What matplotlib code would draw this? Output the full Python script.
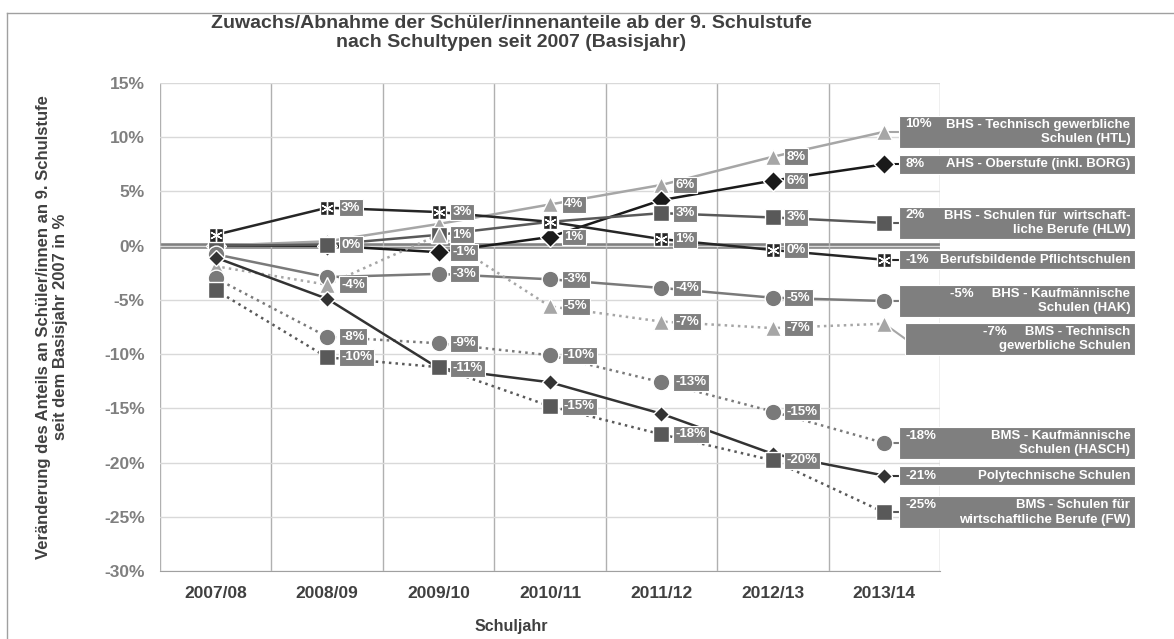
import matplotlib
matplotlib.use('Agg')
import matplotlib.pyplot as plt
from matplotlib.patches import Rectangle
from matplotlib.lines import Line2D
import numpy as np

plt.rcParams['font.family'] = ['Liberation Sans', 'DejaVu Sans']

# ---------------- data ----------------
years = ['2007/08', '2008/09', '2009/10', '2010/11', '2011/12', '2012/13', '2013/14']

names = [
    'BHS - Technisch gewerbliche\nSchulen (HTL)',
    'AHS - Oberstufe (inkl. BORG)',
    'BHS - Schulen für  wirtschaft-\nliche Berufe (HLW)',
    'Berufsbildende Pflichtschulen',
    'BHS - Kaufmännische\nSchulen (HAK)',
    'BMS - Technisch\ngewerbliche Schulen',
    'BMS - Kaufmännische\nSchulen (HASCH)',
    'Polytechnische Schulen',
    'BMS - Schulen für\nwirtschaftliche Berufe (FW)',
]

htl     = [0.0, 0.4, 2.0, 3.8, 5.6, 8.2, 10.5]
ahs     = [0.0, 0.0, -0.6, 0.8, 4.2, 6.0, 7.5]
hlw     = [0.0, 0.1, 1.0, 2.2, 3.0, 2.6, 2.1]
pflicht = [1.0, 3.5, 3.1, 2.2, 0.6, -0.4, -1.3]
hak     = [-0.8, -2.9, -2.6, -3.1, -3.9, -4.8, -5.1]
bms_tech = [-1.9, -3.6, 1.0, -5.6, -7.0, -7.6, -7.2]
hasch   = [-3.0, -8.4, -9.0, -10.1, -12.6, -15.3, -18.2]
poly    = [-1.1, -4.9, -11.3, -12.6, -15.5, -19.2, -21.2]
fw      = [-4.1, -10.3, -11.2, -14.8, -17.4, -19.8, -24.6]

values = [htl, ahs, hlw, pflicht, hak, bms_tech, hasch, poly, fw]

lbl_htl     = [None, None, None, '4%', '6%', '8%', '10%']
lbl_ahs     = [None, None, '-1%', '1%', None, '6%', '8%']
lbl_hlw     = [None, '0%', None, None, '3%', '3%', '2%']
lbl_pflicht = [None, '3%', '3%', None, '1%', '0%', '-1%']
lbl_hak     = [None, None, '-3%', '-3%', '-4%', '-5%', '-5%']
lbl_bms_tech = [None, '-4%', '1%', '-5%', '-7%', '-7%', '-7%']
lbl_hasch   = [None, '-8%', '-9%', '-10%', '-13%', '-15%', '-18%']
lbl_poly    = [None, None, '-11%', None, None, None, '-21%']
lbl_fw      = [None, '-10%', None, '-15%', '-18%', '-20%', '-25%']

labels = [lbl_htl, lbl_ahs, lbl_hlw, lbl_pflicht, lbl_hak, lbl_bms_tech,
          lbl_hasch, lbl_poly, lbl_fw]

yticks = [-30, -25, -20, -15, -10, -5, 0, 5, 10, 15]

# ---------------- styles ----------------
colors = ['#a6a6a6', '#1a1a1a', '#595959', '#262626', '#7a7a7a',
          '#a6a6a6', '#7a7a7a', '#333333', '#595959']
markers = ['^', 'D', 's', 's', 'o', '^', 'o', 'D', 's']
msizes = [11, 10, 11, 10, 12, 11, 12, 8, 11]
lstyles = ['-', '-', '-', '-', '-', ':', ':', '-', ':']
inline_pct = [False, False, False, False, True, True, False, False, False]
end_dy = [0, 0, 0, 0, 0, -1.4, 0, 0, 0]
end_dx = [0, 0, 0, 0, 0, 0.055, 0, 0, 0]

label_bg = '#7f7f7f'

fig = plt.figure(figsize=(11.74, 6.39), dpi=100)
ax = fig.add_axes([160 / 1174, 1 - 571 / 639, 780 / 1174, 488 / 639])

x = np.arange(len(years))
ax.set_xlim(-0.5, 6.5)
ax.set_ylim(-30, 15)

# grid
ax.set_yticks(yticks)
ax.set_yticklabels([f'{v}%' for v in yticks])
ax.set_xticks(x)
ax.set_xticklabels(years)
ax.set_xticks(np.arange(-0.5, 7.0, 1.0), minor=True)
ax.grid(which='major', axis='y', color='#d9d9d9', lw=1.0, zorder=0)
ax.grid(which='minor', axis='x', color='#b0b0b0', lw=1.0, zorder=0)
ax.tick_params(axis='both', which='both', length=0)
ax.tick_params(axis='y', labelsize=12.5, labelcolor='#7f7f7f', pad=11)
ax.tick_params(axis='x', labelsize=12.5, labelcolor='#404040', pad=11)
for t in ax.get_xticklabels() + ax.get_yticklabels():
    t.set_fontweight('bold')
for s in ['top', 'right', 'left']:
    ax.spines[s].set_visible(False)
ax.spines['bottom'].set_color('#a0a0a0')

# zero base line
ax.axhline(0, color='#808080', lw=4.0, zorder=1.5)

px_x = 111.43  # pixels per category
px_y = 10.844  # pixels per percent

for vals, lbls, c, m, ms, ls in zip(values, labels, colors, markers, msizes, lstyles):
    ax.plot(x, vals, color=c, lw=1.8, ls=ls, zorder=3)
    ax.plot(x, vals, color=c, lw=0, marker=m, ms=ms, mec='white', mew=1.0, zorder=4)
    for i in range(len(years) - 1):
        t = lbls[i]
        if t is None:
            continue
        ax.annotate(t, xy=(x[i], vals[i]), xytext=(10, 0), textcoords='offset points',
                    ha='left', va='center', fontsize=9.5, fontweight='bold', color='white',
                    bbox=dict(boxstyle='square,pad=0.18', fc=label_bg, ec='white', lw=0.8),
                    zorder=6)

# asterisk overlay on Pflichtschulen markers
ax.plot(x, pflicht, lw=0, marker=(6, 2, 0), ms=9, mec='white', mew=1.0, zorder=5)

# end-of-series boxes
box_left = 6 + (897 - 882) / px_x
box_right = 6 + (1133 - 882) / px_x
line_h = 15 / px_y
for k, (vals, lbls, nm, c) in enumerate(zip(values, labels, names, colors)):
    nlines = nm.count('\n') + 1
    h = (32 if nlines == 2 else 19) / px_y
    yc = vals[-1] + end_dy[k]
    left = box_left + end_dx[k]
    ax.plot([x[-1], left], [vals[-1], yc], color=c, lw=1.5, zorder=3.5, clip_on=False)
    rect = Rectangle((left, yc - h / 2), box_right - left, h, fc=label_bg, ec='white',
                     lw=0.8, zorder=6, clip_on=False)
    ax.add_patch(rect)
    pct = lbls[-1]
    first_y = yc + (line_h / 2 if nlines == 2 else 0)
    if inline_pct[k]:
        parts = nm.split('\n')
        txt = pct + '     ' + parts[0] + ('\n' + parts[1] if len(parts) > 1 else '')
        ax.text(box_right - 5 / px_x, yc, txt, ha='right', va='center', ma='right',
                fontsize=9.5, fontweight='bold', color='white', zorder=7, clip_on=False,
                linespacing=1.25)
    else:
        ax.text(left + 6 / px_x, first_y, pct, ha='left', va='center',
                fontsize=9.5, fontweight='bold', color='white', zorder=7, clip_on=False)
        ax.text(box_right - 5 / px_x, yc, nm, ha='right', va='center', ma='right',
                fontsize=9.5, fontweight='bold', color='white', zorder=7, clip_on=False,
                linespacing=1.25)

# titles and axis labels
fig.text(511 / 1174, 1 - 33 / 639,
         'Zuwachs/Abnahme der Schüler/innenanteile ab der 9. Schulstufe\n'
         'nach Schultypen seit 2007 (Basisjahr)',
         ha='center', va='center', ma='center', fontsize=14, fontweight='bold',
         color='#404040', linespacing=1.15)
fig.text(52 / 1174, 1 - 327 / 639,
         'Veränderung des Anteils an Schüler/innen an 9. Schulstufe\n'
         'seit dem Basisjahr 2007 in %',
         ha='center', va='center', ma='center', rotation=90, fontsize=12,
         fontweight='bold', color='#404040', linespacing=1.2)
fig.text(511 / 1174, 1 - 627 / 639, 'Schuljahr', ha='center', va='center',
         fontsize=11.5, fontweight='bold', color='#404040')

# outer frame (top and left)
fig.add_artist(Line2D([7 / 1174, 7 / 1174], [0, 1 - 13 / 639], color='#a0a0a0', lw=1,
                      transform=fig.transFigure))
fig.add_artist(Line2D([7 / 1174, 1], [1 - 13 / 639, 1 - 13 / 639], color='#a0a0a0', lw=1,
                      transform=fig.transFigure))

fig.savefig('out.png', dpi=100)
